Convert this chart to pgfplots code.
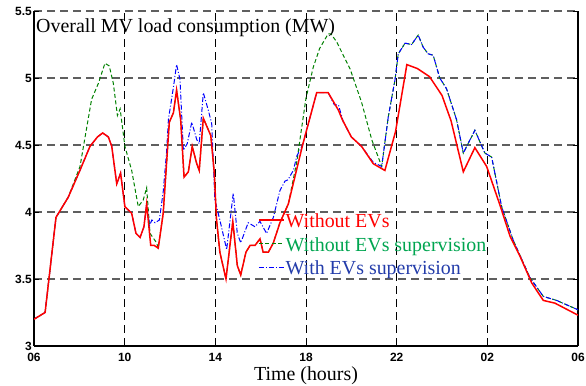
\documentclass[border=0pt]{standalone}
\usepackage{fontspec}
\setmainfont{Liberation Serif}
\setsansfont{Liberation Sans}
\usepackage{pgfplots}
\pgfplotsset{compat=1.18}
\usetikzlibrary{calc}
\definecolor{lgreen}{RGB}{0,128,0}
\definecolor{tgreen}{RGB}{0,165,80}
\definecolor{tblue}{RGB}{35,60,170}
\definecolor{gridgray}{RGB}{95,95,95}
\begin{document}
\begin{tikzpicture}
\begin{axis}[
  scale only axis, width=544bp, height=335bp,
  xmin=6, xmax=30, ymin=3, ymax=5.5,
  xtick={6,10,14,18,22,26,30}, xticklabels={06,10,14,18,22,02,06},
  ytick={3,3.5,4,4.5,5,5.5}, yticklabels={3,3.5,4,4.5,5,5.5},
  axis x line*=bottom, axis y line*=box,
  axis line style={black, line width=1.3bp},
  tick align=inside, major tick length=5bp,
  tick style={black, line width=0.8bp},
  xtick pos=bottom,
  xmajorgrids, ymajorgrids,
  x grid style={black, line width=0.9bp, dash pattern=on 8bp off 5bp},
  y grid style={gridgray, line width=1.2bp, dash pattern=on 8bp off 5bp},
  xticklabel style={font=\fontsize{12}{14}\selectfont\sffamily\bfseries, anchor=north, inner sep=0pt, yshift=-7bp},
  yticklabel style={font=\fontsize{12}{14}\selectfont\sffamily\bfseries, anchor=east, inner sep=0pt, xshift=-2bp},
  xlabel={Time (hours)},
  xlabel style={at={(rel axis cs:0.5,0)}, anchor=base, yshift=-35bp, inner sep=0pt, font=\fontsize{20}{24}\selectfont},
  legend style={at={(rel axis cs:0.4118,0.4112)}, anchor=north west, draw=none, fill=none, inner sep=0pt, row sep=0pt,
    font=\fontsize{20}{24}\selectfont, nodes={inner ysep=0pt, inner xsep=1bp, text height=19.5bp, text depth=4bp}},
  legend cell align=left,
  legend image code/.code={\draw[#1] (0bp,0bp) -- (25bp,0bp);},
]
% green: without EVs supervision
\addplot[forget plot, lgreen, line width=1bp, dash pattern=on 4bp off 2.5bp] table {
6.00 3.20
6.49 3.25
6.97 3.96
7.51 4.11
8.03 4.34
8.54 4.84
8.84 4.96
9.13 5.11
9.32 5.09
9.50 4.96
9.68 4.72
9.80 4.77
10.01 4.49
10.31 4.31
10.60 4.04
10.82 4.09
10.97 4.18
11.12 3.84
11.41 3.77
11.48 3.73
11.70 3.99
11.97 4.67
12.15 4.74
12.29 4.91
12.47 4.69
12.62 4.26
12.81 4.30
12.98 4.49
13.18 4.36
13.29 4.31
13.47 4.70
13.80 4.57
13.95 4.30
14.05 3.95
14.20 3.70
14.47 3.50
14.77 3.93
14.97 3.60
15.12 3.53
15.35 3.70
15.53 3.75
15.75 3.75
15.97 3.80
16.11 3.70
16.34 3.70
16.56 3.77
16.85 3.92
17.22 4.06
17.60 4.38
17.75 4.56
18.00 4.85
18.32 5.08
18.60 5.22
18.98 5.33
19.10 5.33
19.35 5.27
19.94 5.07
20.45 4.82
20.90 4.54
21.34 4.34
21.63 4.71
21.93 4.99
22.07 5.18
22.37 5.26
22.66 5.25
22.95 5.32
23.17 5.23
23.39 5.18
23.61 5.17
23.90 5.00
24.20 4.92
24.64 4.69
24.94 4.44
25.45 4.61
25.89 4.44
26.19 4.41
26.63 4.04
27.14 3.79
27.88 3.51
28.47 3.37
29.06 3.34
30.00 3.27
};
% blue: with EVs supervision
\addplot[forget plot, blue, line width=1bp, dash pattern=on 5bp off 2bp on 1bp off 2bp] table {
6.00 3.20
6.49 3.25
6.97 3.96
7.51 4.11
8.00 4.30
8.47 4.49
8.80 4.56
9.03 4.59
9.28 4.56
9.43 4.49
9.65 4.21
9.82 4.29
10.01 4.04
10.31 3.99
10.50 3.84
10.68 3.81
10.85 3.89
10.97 4.06
11.10 3.90
11.20 3.94
11.34 3.92
11.53 3.94
11.70 4.15
11.85 4.45
11.93 4.69
12.15 4.93
12.29 5.10
12.44 4.99
12.59 4.46
12.76 4.51
12.96 4.67
13.18 4.54
13.29 4.51
13.47 4.89
13.69 4.76
13.84 4.66
13.98 4.09
14.20 3.94
14.50 3.72
14.79 4.14
14.97 3.84
15.12 3.77
15.45 3.92
15.75 3.89
15.97 3.93
16.26 3.84
16.56 3.96
16.85 4.16
17.07 4.23
17.20 4.24
17.44 4.31
17.60 4.42
17.85 4.50
18.47 4.89
18.98 4.89
19.25 4.80
19.43 4.80
19.65 4.67
20.00 4.56
20.45 4.49
20.97 4.37
21.34 4.34
21.63 4.71
21.93 4.99
22.07 5.18
22.37 5.26
22.66 5.25
22.95 5.32
23.17 5.23
23.39 5.18
23.61 5.17
23.90 5.00
24.20 4.92
24.64 4.69
24.94 4.44
25.45 4.61
25.89 4.44
26.19 4.41
26.63 4.04
27.14 3.79
27.88 3.51
28.47 3.37
29.06 3.34
30.00 3.27
};
% red: without EVs
\addplot[forget plot, red, line width=1.5bp] table {
6.00 3.20
6.49 3.25
6.97 3.96
7.51 4.11
8.00 4.30
8.47 4.49
8.80 4.56
9.03 4.59
9.28 4.56
9.43 4.49
9.65 4.21
9.82 4.29
10.01 4.04
10.31 3.99
10.50 3.84
10.68 3.81
10.85 3.89
10.97 4.06
11.15 3.75
11.31 3.75
11.48 3.73
11.70 3.99
11.97 4.67
12.15 4.74
12.29 4.91
12.47 4.69
12.62 4.26
12.81 4.30
12.98 4.49
13.18 4.36
13.29 4.31
13.47 4.70
13.80 4.57
13.95 4.30
14.05 3.95
14.20 3.70
14.47 3.50
14.77 3.93
14.97 3.60
15.12 3.53
15.35 3.70
15.53 3.75
15.75 3.75
15.97 3.80
16.11 3.70
16.34 3.70
16.56 3.77
16.85 3.92
17.22 4.06
17.85 4.50
18.47 4.89
18.98 4.89
19.43 4.76
19.60 4.69
20.00 4.56
20.45 4.49
20.97 4.36
21.48 4.31
21.95 4.60
22.45 5.10
22.92 5.07
23.45 5.01
24.00 4.87
24.40 4.68
24.94 4.30
25.45 4.48
25.97 4.34
26.56 4.05
27.00 3.82
27.44 3.67
27.96 3.47
28.47 3.34
28.98 3.32
30.00 3.23
};
\addlegendimage{red, line width=1.5bp}
\addlegendentry{\textcolor{red}{Without EVs}}
\addlegendimage{lgreen, line width=1bp, dash pattern=on 4bp off 2.5bp}
\addlegendentry{\textcolor{tgreen}{Without EVs supervision}}
\addlegendimage{blue, line width=1bp, dash pattern=on 5bp off 2bp on 1bp off 2bp}
\addlegendentry{\textcolor{tblue}{With EVs supervision}}
\node[anchor=base west, inner sep=0pt, xshift=2bp, yshift=-21.5bp, font=\fontsize{20}{24}\selectfont] at (rel axis cs:0,1) {Overall MV load consumption (MW)};
\end{axis}
\path ($(current axis.south west)+(-34bp,-39bp)$) rectangle ($(current axis.north east)+(8bp,11bp)$);
\end{tikzpicture}
\end{document}
